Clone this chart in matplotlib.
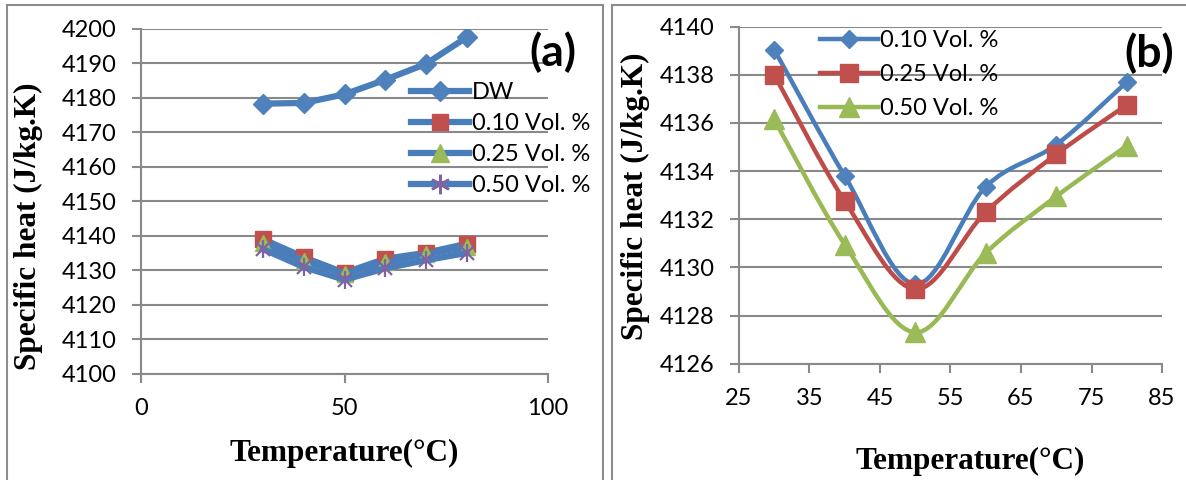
import numpy as np
import matplotlib
matplotlib.use("Agg")
import matplotlib.pyplot as plt
from matplotlib.path import Path
from matplotlib.patches import PathPatch
from matplotlib.lines import Line2D

# temperatures (deg C) and specific heat (J/kg.K)
temp = [30, 40, 50, 60, 70, 80]
cp_dw = [4178.3, 4178.5, 4181.0, 4185.2, 4189.8, 4197.5]
cp_010 = [4139.05, 4133.8, 4129.3, 4133.35, 4135.1, 4137.7]
cp_025 = [4138.0, 4132.75, 4129.1, 4132.3, 4134.7, 4136.75]
cp_050 = [4136.15, 4130.95, 4127.3, 4130.6, 4132.95, 4135.05]
labels_a = ["DW", "0.10 Vol. %", "0.25 Vol. %", "0.50 Vol. %"]
labels_b = ["0.10 Vol. %", "0.25 Vol. %", "0.50 Vol. %"]

W, H = 1186, 480
TICK_FONT = "Lato"
BLUE_LINE = "#4a7ebb"
BLUE = "#4f81bd"
RED = "#c0504d"
GREEN = "#9bbb59"
PURPLE = "#8064a2"
GRID = "#898989"

plt.rcParams["font.family"] = TICK_FONT
fig = plt.figure(figsize=(W / 100, H / 100), dpi=100)


def px_axes(left, top, right, bottom):
    return fig.add_axes([left / W, 1 - bottom / H, (right - left) / W, (bottom - top) / H])


def style(ax):
    ax.grid(axis="y", color=GRID, lw=1.5)
    ax.set_axisbelow(True)
    for s in ["top", "right"]:
        ax.spines[s].set_visible(False)
    for s in ["left", "bottom"]:
        ax.spines[s].set_color(GRID)
        ax.spines[s].set_linewidth(1.5)
    ax.tick_params(axis="both", colors=GRID, width=1.5, length=6.5, labelsize=17,
                   labelcolor="black")
    ax.tick_params(axis="y", pad=11)
    ax.tick_params(axis="x", pad=11)


def smooth_path(x, y):
    # Bezier curve through the points, like a spreadsheet "smoothed line"
    pts = np.column_stack([x, y]).astype(float)
    n = len(pts)
    verts = [pts[0]]
    codes = [Path.MOVETO]
    for i in range(n - 1):
        p0 = pts[max(i - 1, 0)]
        p1 = pts[i]
        p2 = pts[i + 1]
        p3 = pts[min(i + 2, n - 1)]
        verts += [p1 + (p2 - p0) / 6, p2 - (p3 - p1) / 6, p2]
        codes += [Path.CURVE4] * 3
    return Path(verts, codes)


def asterisk(ax, x, y, size):
    ax.plot(x, y, ls="none", marker="x", ms=size * 0.75, mew=1.6, color=PURPLE, zorder=4)
    ax.plot(x, y, ls="none", marker="|", ms=size, mew=1.6, color=PURPLE, zorder=4)


# ---------------- panel (a) ----------------
ax1 = px_axes(141, 28.7, 548, 374)
style(ax1)
LW_A = 4.5
ax1.plot(temp, cp_dw, color=BLUE_LINE, lw=LW_A, marker="D", ms=10, mfc=BLUE, mec=BLUE,
         solid_joinstyle="round", zorder=3)
ax1.plot(temp, cp_010, color=BLUE_LINE, lw=LW_A, marker="s", ms=11, mfc=RED, mec=RED, zorder=3)
ax1.plot(temp, cp_025, color=BLUE_LINE, lw=LW_A, marker="^", ms=11.5, mfc=GREEN, mec=GREEN, zorder=3)
ax1.plot(temp, cp_050, color=BLUE_LINE, lw=LW_A, zorder=3)
asterisk(ax1, temp, cp_050, 13)
ax1.set_xlim(0, 100)
ax1.set_ylim(4100, 4200)
ax1.set_xticks([0, 50, 100])
ax1.set_yticks(np.arange(4100, 4201, 10))

hand_a = [
    Line2D([], [], color=BLUE_LINE, lw=LW_A, marker="D", ms=10, mfc=BLUE, mec=BLUE),
    Line2D([], [], color=BLUE_LINE, lw=LW_A, marker="s", ms=12, mfc=RED, mec=RED),
    Line2D([], [], color=BLUE_LINE, lw=LW_A, marker="^", ms=13, mfc=GREEN, mec=GREEN),
    Line2D([], [], color=BLUE_LINE, lw=LW_A, marker=(6, 2, 0), ms=14, mec=PURPLE, mew=1.8),
]
fig.legend(hand_a, labels_a, loc="upper left", bbox_to_anchor=(411 / W, 1 - 82 / H),
           frameon=False, fontsize=17, handlelength=2.45, handletextpad=0.12,
           labelspacing=0.43, borderpad=0, borderaxespad=0)

fig.text(28 / W, 1 - 226 / H, "Specific heat (J/kg.K)", rotation=90, ha="center",
         va="center", fontsize=22.5, fontweight="bold", family="Liberation Serif")
fig.text(344 / W, 1 - 453 / H, "Temperature(°C)", ha="center", va="center",
         fontsize=22.5, fontweight="bold", family="Liberation Serif")
fig.text(553 / W, 1 - 52 / H, "(a)", ha="center", va="center", fontsize=32,
         fontweight="bold")

# ---------------- panel (b) ----------------
ax2 = px_axes(739, 26.7, 1162, 363.7)
style(ax2)
series_b = [
    (cp_010, "#4a7ebb", "D", 9.5, BLUE),
    (cp_025, "#be4b48", "s", 13, RED),
    (cp_050, "#98b954", "^", 14, GREEN),
]
hand_b = []
for vals, lc, mk, ms, mc in series_b:
    ax2.add_patch(PathPatch(smooth_path(temp, vals), fc="none", ec=lc, lw=3.2,
                            capstyle="round", joinstyle="round", zorder=3))
    ax2.plot(temp, vals, ls="none", marker=mk, ms=ms, mfc=mc, mec=mc, zorder=4)
    hand_b.append(Line2D([], [], color=lc, lw=3.2, marker=mk, ms=ms, mfc=mc, mec=mc))
ax2.set_xlim(25, 85)
ax2.set_ylim(4126, 4140)
ax2.set_xticks(np.arange(25, 86, 10))
ax2.set_yticks(np.arange(4126, 4141, 2))

fig.legend(hand_b, labels_b, loc="upper left", bbox_to_anchor=(820 / W, 1 - 30 / H),
           frameon=False, fontsize=17, handlelength=2.45, handletextpad=0.08,
           labelspacing=0.56, borderpad=0, borderaxespad=0)

fig.text(635.5 / W, 1 - 196.5 / H, "Specific heat (J/kg.K)", rotation=90, ha="center",
         va="center", fontsize=22.5, fontweight="bold", family="Liberation Serif")
fig.text(970 / W, 1 - 461 / H, "Temperature(°C)", ha="center", va="center",
         fontsize=22.5, fontweight="bold", family="Liberation Serif")
fig.text(1149 / W, 1 - 53 / H, "(b)", ha="center", va="center", fontsize=32,
         fontweight="bold")

# chart borders
frame = dict(color="#8d8d8d", lw=1.5, transform=fig.transFigure)
for xs, ys in [([7, 7], [5, H]), ([7, 603], [5, 5]), ([603, 603], [5, H]),
               ([612, 612], [5, H]), ([612, W], [5, 5])]:
    fig.add_artist(Line2D([x / W for x in xs], [1 - y / H for y in ys], **frame))

fig.savefig("out.png", dpi=100)
